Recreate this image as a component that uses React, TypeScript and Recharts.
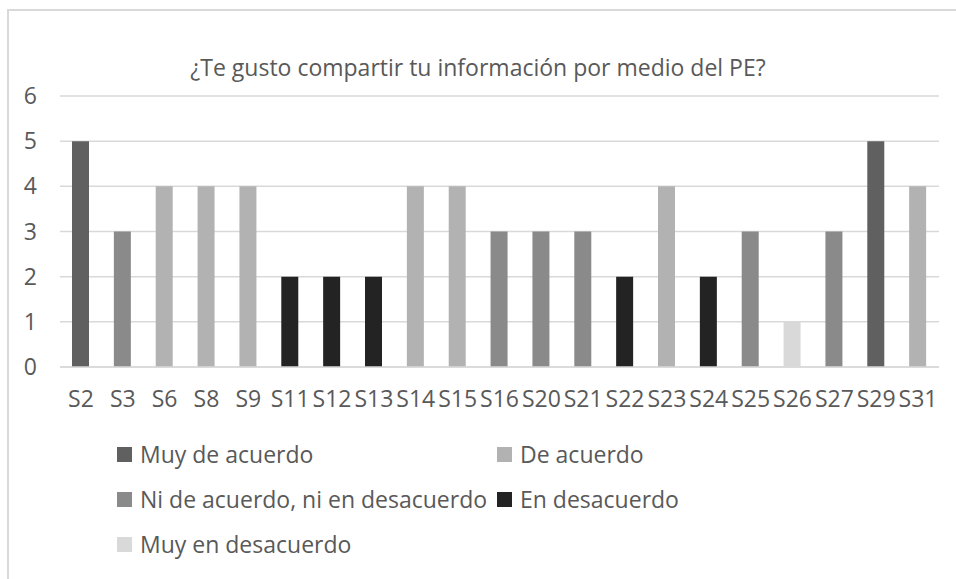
import { BarChart, Bar, XAxis, YAxis, CartesianGrid } from "recharts";

// categories (students) and answers, one series per answer
const sujetos = ["S2", "S3", "S6", "S8", "S9", "S11", "S12", "S13", "S14", "S15", "S16", "S20", "S21", "S22", "S23", "S24", "S25", "S26", "S27", "S29", "S31"];
const muyDeAcuerdo = [5, 0, 0, 0, 0, 0, 0, 0, 0, 0, 0, 0, 0, 0, 0, 0, 0, 0, 0, 5, 0];
const deAcuerdo = [0, 0, 4, 4, 4, 0, 0, 0, 4, 4, 0, 0, 0, 0, 4, 0, 0, 0, 0, 0, 4];
const niNi = [0, 3, 0, 0, 0, 0, 0, 0, 0, 0, 3, 3, 3, 0, 0, 0, 3, 0, 3, 0, 0];
const enDesacuerdo = [0, 0, 0, 0, 0, 2, 2, 2, 0, 0, 0, 0, 0, 2, 0, 2, 0, 0, 0, 0, 0];
const muyEnDesacuerdo = [0, 0, 0, 0, 0, 0, 0, 0, 0, 0, 0, 0, 0, 0, 0, 0, 0, 1, 0, 0, 0];
const yTicks = [0, 1, 2, 3, 4, 5, 6];

const series = [
  { key: "muy", name: "Muy de acuerdo", values: muyDeAcuerdo, color: "#606060" },
  { key: "de", name: "De acuerdo", values: deAcuerdo, color: "#b2b2b2" },
  { key: "ni", name: "Ni de acuerdo, ni en desacuerdo", values: niNi, color: "#8a8a8a" },
  { key: "en", name: "En desacuerdo", values: enDesacuerdo, color: "#232323" },
  { key: "muyEn", name: "Muy en desacuerdo", values: muyEnDesacuerdo, color: "#d9d9d9" },
];

const data = sujetos.map((name, i) => {
  const row: Record<string, any> = { name };
  series.forEach((s) => (row[s.key] = s.values[i]));
  return row;
});

const FONT = "'Open Sans', sans-serif";
const TEXT = "#595959";

export default function App() {
  return (
    <div style={{ position: "absolute", left: 0, top: 0, width: 956, height: 579, background: "#fff", fontFamily: FONT, overflow: "hidden" }}>
      {/* chart frame: only left and top edges are visible in the crop */}
      <div
        style={{
          position: "absolute",
          left: 7,
          top: 9,
          width: 949,
          height: 570,
          boxSizing: "border-box",
          borderLeft: "2px solid #d9d9d9",
          borderTop: "2px solid #d9d9d9",
        }}
      />
      <div style={{ position: "absolute", left: 0, top: 51, width: 956, textAlign: "center", fontSize: 23, color: TEXT, lineHeight: "32px" }}>
        ¿Te gusto compartir tu información por medio del PE?
      </div>
      <div style={{ position: "absolute", left: 0, top: 0 }}>
        <BarChart width={956} height={579} data={data} margin={{ top: 96, right: 17, left: 20, bottom: 182 }}>
          <CartesianGrid vertical={false} stroke="#d9d9d9" strokeWidth={1.5} />
          <XAxis
            dataKey="name"
            height={30}
            tickLine={false}
            tickSize={6}
            tickMargin={18}
            interval={0}
            axisLine={{ stroke: "#d9d9d9", strokeWidth: 1.5 }}
            tick={{ fill: TEXT, fontSize: 23, fontFamily: FONT }}
          />
          <YAxis
            width={40}
            domain={[0, 6]}
            ticks={yTicks}
            axisLine={false}
            tickLine={false}
            tickSize={6}
            tickMargin={17}
            tick={{ fill: TEXT, fontSize: 23, fontFamily: FONT }}
          />
          {series.map((s) => (
            <Bar key={s.key} dataKey={s.key} name={s.name} stackId="a" fill={s.color} barSize={17} isAnimationActive={false} />
          ))}
        </BarChart>
      </div>
      <div
        style={{
          position: "absolute",
          left: 117,
          top: 438,
          width: 760,
          display: "grid",
          gridTemplateColumns: "380px 380px",
          rowGap: 13,
          fontSize: 23,
          color: TEXT,
        }}
      >
        {series.map((s) => (
          <div key={s.key} style={{ display: "flex", alignItems: "center", height: 32, whiteSpace: "nowrap" }}>
            <span style={{ display: "inline-block", width: 15, height: 15, background: s.color, marginRight: 8 }} />
            {s.name}
          </div>
        ))}
      </div>
    </div>
  );
}
